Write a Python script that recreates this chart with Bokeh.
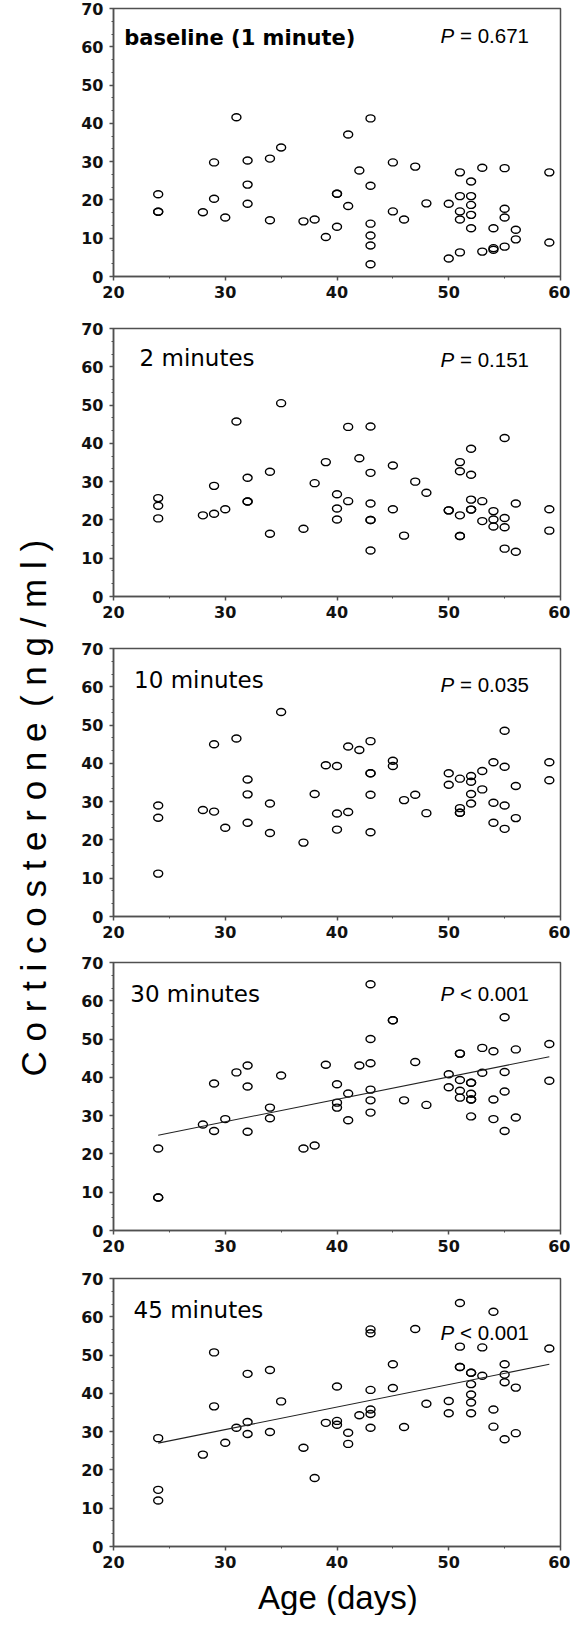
import math
from bokeh.plotting import figure
from bokeh.layouts import row, column
from bokeh.models import Range1d, Label, FixedTicker
from bokeh.core.properties import value
from bokeh.embed import file_html
from bokeh.resources import INLINE

# ---------------- data ----------------
panel_titles = ["baseline (1 minute)", "2 minutes", "10 minutes", "30 minutes", "45 minutes"]
p_signs = ["=", "=", "=", "<", "<"]
p_values = ["0.671", "0.151", "0.035", "0.001", "0.001"]

x_ticks = [20, 30, 40, 50, 60]
y_ticks = [0, 10, 20, 30, 40, 50, 60, 70]

age_1min = [24, 24, 24, 28, 29, 29, 30, 31, 32, 32, 32, 34, 34, 35, 37, 38, 39,
            40, 40, 40, 41, 41, 42, 43, 43, 43, 43, 43, 43, 45, 45, 46, 47, 48,
            50, 50, 51, 51, 51, 51, 51, 52, 52, 52, 52, 52, 53, 53, 54, 54, 54,
            55, 55, 55, 55, 56, 56, 59, 59]
cort_1min = [21.5, 16.9, 16.9, 16.8, 29.8, 20.3, 15.4, 41.6, 30.3, 24.0, 19.0, 14.7, 30.8, 33.7, 14.4, 14.9, 10.3,
             21.6, 21.6, 13.0, 37.1, 18.4, 27.7, 41.3, 23.7, 13.8, 10.7, 8.1, 3.2, 29.8, 17.0, 14.9, 28.7, 19.1,
             19.0, 4.7, 27.2, 21.0, 17.0, 14.9, 6.3, 24.8, 21.0, 18.7, 16.1, 12.6, 28.4, 6.5, 12.6, 7.4, 7.0,
             28.3, 17.7, 15.4, 7.8, 12.2, 9.7, 27.2, 8.9]

age_2min = [24, 24, 24, 28, 29, 29, 30, 31, 32, 32, 32, 34, 34, 35, 37, 38, 39,
            40, 40, 40, 41, 41, 42, 43, 43, 43, 43, 43, 43, 45, 45, 46, 47, 48,
            50, 50, 51, 51, 51, 51, 51, 52, 52, 52, 52, 52, 53, 53, 54, 54, 54,
            55, 55, 55, 55, 56, 56, 59, 59]
cort_2min = [25.7, 23.7, 20.4, 21.2, 28.9, 21.6, 22.8, 45.7, 31.0, 24.8, 24.8, 32.6, 16.4, 50.5, 17.7, 29.6, 35.1,
             26.7, 23.0, 20.1, 44.3, 24.9, 36.1, 44.4, 32.3, 24.3, 20.0, 20.0, 12.0, 34.2, 22.8, 15.9, 30.0, 27.1,
             22.5, 22.5, 35.1, 32.7, 21.2, 15.8, 15.8, 38.6, 31.8, 25.3, 22.7, 22.7, 24.9, 19.7, 22.3, 20.1, 18.3,
             41.4, 20.5, 18.1, 12.5, 24.3, 11.7, 22.8, 17.2]

age_10min = [24, 24, 24, 28, 29, 29, 30, 31, 32, 32, 32, 34, 34, 35, 37, 38, 39,
             40, 40, 40, 41, 41, 42, 43, 43, 43, 43, 43, 45, 45, 46, 47, 48,
             50, 50, 51, 51, 51, 51, 52, 52, 52, 52, 53, 53, 54, 54, 54,
             55, 55, 55, 55, 56, 56, 59, 59]
cort_10min = [29.0, 25.8, 11.2, 27.8, 27.4, 45.0, 23.2, 46.5, 35.8, 31.9, 24.5, 29.5, 21.8, 53.4, 19.3, 32.0, 39.5,
              39.3, 26.9, 22.7, 44.4, 27.3, 43.5, 45.8, 37.4, 37.4, 31.8, 22.0, 40.7, 39.3, 30.4, 31.8, 27.0,
              37.4, 34.4, 36.0, 28.3, 27.1, 27.1, 36.7, 35.2, 32.0, 29.5, 38.0, 33.2, 40.3, 29.7, 24.5,
              48.5, 39.1, 29.0, 22.9, 34.1, 25.7, 40.3, 35.6]

age_30min = [24, 24, 24, 28, 29, 29, 30, 31, 32, 32, 32, 34, 34, 35, 37, 38, 39,
             40, 40, 40, 41, 41, 42, 43, 43, 43, 43, 43, 43, 45, 45, 46, 47, 48,
             50, 50, 51, 51, 51, 51, 51, 52, 52, 52, 52, 52, 52, 53, 53, 54, 54, 54,
             55, 55, 55, 55, 56, 56, 59, 59]
cort_30min = [21.4, 8.6, 8.6, 27.7, 38.4, 26.0, 29.1, 41.3, 43.1, 37.6, 25.8, 32.1, 29.3, 40.5, 21.4, 22.2, 43.3,
              38.2, 33.4, 32.1, 35.8, 28.8, 43.1, 64.3, 50.0, 43.7, 36.8, 34.0, 30.8, 54.9, 54.9, 34.0, 44.0, 32.8,
              40.8, 37.4, 46.2, 46.2, 39.3, 36.5, 34.7, 38.6, 38.6, 35.7, 34.2, 34.2, 29.8, 47.7, 41.2, 46.8, 34.2, 29.1,
              55.7, 41.4, 36.3, 26.0, 47.3, 29.5, 48.7, 39.1]
fit_age_30min = [24, 59]
fit_cort_30min = [24.9, 45.4]

age_45min = [24, 24, 24, 28, 29, 29, 30, 31, 32, 32, 32, 34, 34, 35, 37, 38, 39,
             40, 40, 40, 41, 41, 42, 43, 43, 43, 43, 43, 43, 45, 45, 46, 47, 48,
             50, 50, 51, 51, 51, 51, 52, 52, 52, 52, 52, 52, 53, 53, 54, 54, 54,
             55, 55, 55, 55, 56, 56, 59]
cort_45min = [28.3, 14.8, 12.0, 24.0, 50.7, 36.6, 27.1, 31.0, 45.1, 32.5, 29.4, 46.1, 29.9, 37.9, 25.8, 17.9, 32.3,
              41.8, 32.8, 31.8, 29.7, 26.8, 34.3, 56.7, 55.7, 40.9, 35.8, 34.6, 31.0, 47.6, 41.4, 31.2, 56.8, 37.3,
              38.0, 34.8, 63.6, 52.2, 46.9, 46.9, 45.4, 45.4, 42.4, 39.7, 37.6, 34.8, 52.0, 44.6, 61.3, 35.8, 31.3,
              47.6, 44.9, 42.9, 28.0, 41.5, 29.6, 51.7]
fit_age_45min = [24, 59]
fit_cort_45min = [27.0, 47.6]

ages = [age_1min, age_2min, age_10min, age_30min, age_45min]
corts = [cort_1min, cort_2min, cort_10min, cort_30min, cort_45min]
fits = [None, None, None, (fit_age_30min, fit_cort_30min), (fit_age_45min, fit_cort_45min)]

# ---------------- layout / style ----------------
fig_heights = [320, 320, 314, 316, 304]
title_x = [20.96, 22.33, 21.84, 21.5, 21.8]
title_y = [62.4, 62.2, 61.8, 61.8, 61.8]
pval_y = [63.0, 62.0, 60.5, 61.8, 55.9]
AXC = "#505050"

panels = []
for i in range(5):
    H = fig_heights[i]
    p = figure(width=510, height=H, x_range=Range1d(20, 60), y_range=Range1d(0, 70),
               output_backend="svg", toolbar_location=None,
               min_border_left=53, min_border_right=10, min_border_top=8,
               min_border_bottom=H - 8 - 268)
    p.background_fill_color = "white"
    p.border_fill_color = "white"
    p.grid.visible = False
    p.outline_line_color = AXC
    p.outline_line_width = 1.5

    p.xaxis.ticker = FixedTicker(ticks=x_ticks, minor_ticks=[t + 5 for t in x_ticks[:-1]])
    p.yaxis.ticker = FixedTicker(ticks=y_ticks,
                                 minor_ticks=[t + d for t in y_ticks[:-1] for d in (10 / 3, 20 / 3)])
    for ax in (p.xaxis, p.yaxis):
        ax.axis_line_color = AXC
        ax.axis_line_width = 1.5
        ax.major_tick_line_color = AXC
        ax.major_tick_line_width = 1.5
        ax.major_tick_in = 0
        ax.major_tick_out = 4
        ax.minor_tick_line_color = AXC
        ax.minor_tick_line_width = 1
        ax.minor_tick_in = 0
        ax.minor_tick_out = 2
        ax.major_label_text_font = "DejaVu Sans"
        ax.major_label_text_font_style = "bold"
        ax.major_label_text_font_size = "16px"
        ax.major_label_text_color = "#111111"
    p.xaxis.major_label_standoff = 5
    p.yaxis.major_label_standoff = 6

    p.ellipse(x=ages[i], y=corts[i], width=9, height=7,
              width_units="screen", height_units="screen",
              fill_color=None, line_color="black", line_width=1.4)

    if fits[i] is not None:
        p.line(fits[i][0], fits[i][1], line_color="#222222", line_width=1.1)

    p.add_layout(Label(x=title_x[i], y=title_y[i], text=panel_titles[i],
                       text_font="DejaVu Sans", text_font_size="21px" if i == 0 else "23px",
                       text_font_style="bold" if i == 0 else "normal",
                       text_align="left", text_baseline="middle", text_color="black"))
    p.add_layout(Label(x=57.18, y=pval_y[i], text=p_signs[i] + " " + p_values[i],
                       text_font="Liberation Sans", text_font_size="20.5px",
                       text_align="right", text_baseline="middle", text_color="black"))
    p.add_layout(Label(x=57.18, y=pval_y[i], x_offset=-74.7, text="P",
                       text_font="Liberation Sans", text_font_size="20.5px",
                       text_font_style="italic",
                       text_align="right", text_baseline="middle", text_color="black"))
    panels.append(p)

# x axis title strip under the last panel (data units = pixels)
bottom_h = 41
xl = figure(width=510, height=bottom_h, x_range=Range1d(0, 510), y_range=Range1d(0, bottom_h),
            x_axis_type=None, y_axis_type=None, min_border=0,
            output_backend="svg", toolbar_location=None)
xl.outline_line_color = None
xl.background_fill_color = "white"
xl.border_fill_color = "white"
xl.text(x=[256], y=[18], text=["Age (days)"], text_font=value("Liberation Sans"),
        text_font_size="33px", text_align="center", text_baseline="middle", text_color="black")

# y axis title in its own strip (data units = pixels)
total_h = sum(fig_heights) + bottom_h
yl = figure(width=60, height=total_h, x_range=Range1d(0, 60), y_range=Range1d(0, total_h),
            x_axis_type=None, y_axis_type=None, min_border=0,
            output_backend="svg", toolbar_location=None)
yl.outline_line_color = None
yl.background_fill_color = "white"
yl.border_fill_color = "white"
yl.text(x=[33, 33], y=[716, 992], text=["C o r t i c o s t e r o n e", "( n g / m l )"],
        angle=math.pi / 2, text_font=value("Liberation Sans"), text_font_size="35px",
        text_align="center", text_baseline="alphabetic", text_color="black")

layout = row(yl, column(*panels, xl))
open("out.html", "w").write(file_html(layout, INLINE))
